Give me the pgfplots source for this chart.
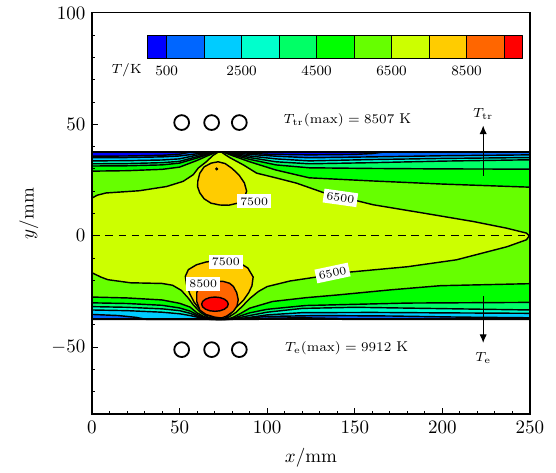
\documentclass[border=0pt]{standalone}
\usepackage{pgfplots}
\pgfplotsset{compat=1.18}
\usetikzlibrary{arrows.meta}
\definecolor{c0}{RGB}{0,0,255}
\definecolor{c1}{RGB}{0,102,255}
\definecolor{c2}{RGB}{0,204,255}
\definecolor{c3}{RGB}{0,255,204}
\definecolor{c4}{RGB}{0,255,102}
\definecolor{c5}{RGB}{0,255,0}
\definecolor{c6}{RGB}{102,255,0}
\definecolor{c7}{RGB}{204,255,0}
\definecolor{c8}{RGB}{255,204,0}
\definecolor{c9}{RGB}{255,102,0}
\definecolor{c10}{RGB}{255,0,0}
\newcommand\fa{\fontsize{7.5}{9}\selectfont}
\newcommand\fb{\fontsize{6}{7}\selectfont}
\begin{document}
\begin{tikzpicture}
\useasboundingbox (0,0) rectangle (292.6pt,248.4pt);
\begin{axis}[
  at={(48.4pt,30.5pt)}, anchor=south west,
  scale only axis, width=230.5pt, height=211.1pt,
  xmin=0, xmax=250, ymin=-80, ymax=100,
  xtick={0,50,...,250}, ytick={-50,0,50,100},
  minor xtick={10,20,...,240}, minor ytick={-80,-70,...,90},
  xtick pos=left, ytick pos=left, tick align=inside,
  major tick length=3pt, minor tick length=1.8pt,
  every tick/.style={black, line width=0.5pt},
  xlabel={$x/\mathrm{mm}$}, ylabel={$y/\mathrm{mm}$},
  xlabel style={yshift=-1pt},
  axis line style={line width=0.6pt},
  clip=false, axis on top,
  contour/.style={draw=black, line width=0.75pt, line join=round, mark=none},
]
% T > 500
\addplot[contour, fill=c0] coordinates {(0,-37.5)(250,-37.5)(250,37.5)(0,37.5)(0,-37.5)};
\addplot[contour, fill=c1] coordinates {
(0,35.7)(20,35.8)(40,36.1)(50,36.6)(56,37.5)(84,37.5)(90,37.0)(100,36.6)(124,36.3)(150,36.5)(160,36.9)(166,37.5)(250,37.5)
(250,-37.5)(143,-37.5)(140,-37.1)(120,-36.8)(100,-37.0)(95,-37.5)(0,-37.5)(0,35.7)};
% T > 1500
\addplot[contour, fill=c2] coordinates {
(0,35.0)(20,35.1)(40,35.4)(50,35.8)(60,36.8)(66,37.3)(69,37.5)(77,37.5)(80,37.3)(90,36.5)(105,35.7)(124,35.0)(160,35.4)(200,35.9)(250,36.3)
(250,-36.8)(210,-36.5)(170,-36.0)(130,-35.8)(100,-36.2)(88,-37.0)(80,-37.5)(31,-37.5)(25,-36.6)(15,-35.8)(0,-35.3)(0,35.0)};
% T > 2500
\addplot[contour, fill=c3] coordinates {
(0,33.6)(20,33.7)(40,34.0)(50,34.5)(60,36.2)(66,37.0)(69.5,37.5)(76.5,37.5)(80,37.0)(90,35.8)(105,34.5)(124,33.6)(160,34.2)(200,34.7)(250,35.1)
(250,-34.8)(200,-34.6)(160,-34.4)(120,-34.5)(100,-35.5)(92,-36.4)(84,-37.2)(78,-37.5)(67,-37.5)(64,-37.2)(60,-36.5)(56,-35.8)(50,-35.0)(40,-34.3)(20,-33.6)(0,-33.3)(0,33.6)};
% T > 3500
\addplot[contour, fill=c4] coordinates {
(0,32.3)(20,32.4)(40,32.8)(50,33.4)(60,35.5)(66,36.7)(70,37.5)(76,37.5)(80,36.7)(90,35.1)(105,33.2)(124,32.3)(160,32.8)(200,33.5)(250,34.1)
(250,-33.3)(200,-32.7)(150,-32.1)(120,-32.6)(100,-34.3)(90,-35.8)(82,-37.1)(77,-37.5)(68,-37.5)(64,-37.0)(60,-36.0)(56,-34.8)(50,-33.6)(40,-32.8)(20,-32.1)(0,-31.8)(0,32.3)};
% T > 4500
\addplot[contour, fill=c5] coordinates {
(0,31.3)(20,31.4)(40,31.8)(50,32.6)(60,34.9)(66,36.4)(70.5,37.5)(75.5,37.5)(80,36.4)(90,34.3)(105,31.8)(124,30.5)(160,30.2)(200,30.0)(250,29.9)
(250,-29.9)(180,-30.2)(122,-31.3)(100,-33.0)(90,-34.6)(85,-35.9)(80,-37.2)(76,-37.5)(71,-37.5)(68,-37.4)(64,-36.7)(60,-35.4)(56,-33.8)(50,-32.4)(40,-31.2)(20,-30.4)(0,-30.1)(0,31.3)};
% T > 5500
\addplot[contour, fill=c6] coordinates {
(0,29.0)(20,29.2)(40,29.8)(50,30.8)(60,33.8)(66,35.9)(71,37.5)(75,37.5)(80,36.0)(90,33.2)(105,29.5)(124,26.0)(160,24.6)(200,23.2)(250,21.8)
(250,-21.5)(199,-22.4)(170,-24.3)(141,-26.5)(122,-27.8)(103,-29.5)(90,-32.5)(84.5,-35.0)(80,-36.8)(76,-37.5)(71,-37.5)(68,-37.2)(64,-36.3)(60,-34.6)(56,-32.0)(50,-30.3)(40,-28.8)(20,-27.9)(0,-27.5)(0,29.0)};
% T > 6500
\addplot[contour, fill=c7] coordinates {
(0,16.9)(3,18.2)(8,19.2)(27,20.2)(42.6,22.1)(52,24.4)(57.8,27.4)(60.7,30.4)(65.4,33.3)(69,36.0)(72,37.5)(74,37.5)(76,36.4)(78.8,35.0)(86.4,31.8)(94,28.1)(105.4,25.9)(116.8,23.6)(132,19.4)(160.6,13.9)(189,10.2)(217.6,6.4)(236.7,3.4)(248,1.2)(249.6,0)
(248,-1.8)(237,-4.9)(208,-10.8)(180,-13.9)(147,-16.3)(130,-18.3)(113,-20.3)(100,-22.8)(95,-25.0)(90,-28.2)(86,-31.5)(82,-34.5)(78,-36.5)(74,-37.5)(71,-37.5)(66,-36.4)(62,-34.4)(58,-31.2)(55,-28.0)(51,-24.5)(46,-22.2)(40,-21.4)(22,-21.1)(9,-19.7)(5,-18.5)(0,-16.6)(0,16.9)};
% T > 7500 (top and bottom)
\addplot[contour, fill=c8] coordinates {
(60.3,22)(60.4,24.5)(61.5,28)(64,30.9)(68,32.6)(72,33.2)(76,32.4)(80,30.2)(84,27.2)(87,23.7)(88.3,20)(86.8,16.8)(83,14.6)(78,13.7)(73,13.8)(68,14.6)(64,16.6)(61.5,19.3)(60.3,22)};
\addplot[only marks, mark=*, mark size=0.6pt, black] coordinates {(71.2,30)};
\addplot[contour, fill=c8] coordinates {
(59.7,-13)(65,-11.8)(71.2,-11.1)(78,-11.3)(84.5,-12.3)(89,-14.5)(92,-18.5)(91.3,-22.5)(89.5,-25.5)(86.4,-29)(82.5,-32)(79,-35)(75.5,-37.3)(70,-36.9)(65.5,-35.5)(61.5,-33.0)(58.3,-29.8)(55.8,-26)(54,-22)(53.3,-18.2)(55,-15.2)(59.7,-13)};
% T > 8500
\addplot[contour, fill=c9] coordinates {
(59.8,-29.5)(59.8,-25.5)(61.5,-22.8)(64.5,-21.2)(69,-20.4)(75,-20.5)(78.5,-21.3)(80.7,-22.7)(82.6,-25.5)(83.5,-28.7)(82.8,-31.5)(80.7,-33.9)(77,-36.0)(74,-36.9)(70,-36.5)(65,-35.3)(61.6,-33.4)(59.8,-29.5)};
% T > 9500
\addplot[contour, fill=c10] coordinates {
(77.8,-30.7)(77.22,-29.47)(75.57,-28.44)(73.11,-27.74)(70.2,-27.5)(67.29,-27.74)(64.83,-28.44)(63.18,-29.47)(62.6,-30.7)(63.18,-31.93)(64.83,-32.96)(67.29,-33.66)(70.2,-33.9)(73.11,-33.66)(75.57,-32.96)(77.22,-31.93)(77.8,-30.7)};
% walls and centre line
\addplot[black, line width=1.2pt, mark=none] coordinates {(0,37.5)(250,37.5)};
\addplot[black, line width=1.2pt, mark=none] coordinates {(0,-37.5)(250,-37.5)};
\addplot[black, line width=0.75pt, mark=none, dash pattern=on 4pt off 3pt] coordinates {(0,0)(248,0)};
% contour labels
\node[fill=white, inner sep=1.6pt, font=\fb] at (axis cs:92.6,15.4) {7500};
\node[fill=white, inner sep=1.6pt, font=\fb, rotate=-8] at (axis cs:141.8,17) {6500};
\node[fill=white, inner sep=1.6pt, font=\fb, rotate=12] at (axis cs:137.3,-16.7) {6500};
\node[fill=white, inner sep=1.6pt, font=\fb] at (axis cs:76.4,-11.7) {7500};
\node[fill=white, inner sep=1.6pt, font=\fb] at (axis cs:63.5,-21.6) {8500};
% electrodes
\addplot[only marks, mark=o, mark size=3.9pt, mark options={line width=0.95pt}, black] coordinates {(51.2,50.8)(68.3,50.8)(84.1,50.8)};
\addplot[only marks, mark=o, mark size=3.9pt, mark options={line width=0.95pt}, black] coordinates {(51.2,-51.1)(68.3,-51.1)(84.1,-51.1)};
\node[font=\fa] at (axis cs:145.8,52) {$T_{\mathrm{tr}}(\max)=8507$ K};
\node[font=\fa] at (axis cs:145.4,-50.4) {$T_{\mathrm{e}}(\max)=9912$ K};
% arrows
\addplot[black, line width=0.55pt, mark=none, -{Latex[length=4.5pt,width=3.8pt]}] coordinates {(223.3,27)(223.3,49.5)};
\addplot[black, line width=0.55pt, mark=none, -{Latex[length=4.5pt,width=3.8pt]}] coordinates {(223.3,-27.2)(223.3,-48.1)};
\node[font=\fa] at (axis cs:223.3,54.5) {$T_{\mathrm{tr}}$};
\node[font=\fa] at (axis cs:223.3,-54.8) {$T_{\mathrm{e}}$};
% colour bar
\addplot[contour, line width=0.45pt, fill=c0] coordinates {(31.6,79.4)(42.6,79.4)(42.6,89.8)(31.6,89.8)(31.6,79.4)};
\addplot[contour, line width=0.45pt, fill=c1] coordinates {(42.6,79.4)(64.0,79.4)(64.0,89.8)(42.6,89.8)(42.6,79.4)};
\addplot[contour, line width=0.45pt, fill=c2] coordinates {(64.0,79.4)(85.4,79.4)(85.4,89.8)(64.0,89.8)(64.0,79.4)};
\addplot[contour, line width=0.45pt, fill=c3] coordinates {(85.4,79.4)(106.9,79.4)(106.9,89.8)(85.4,89.8)(85.4,79.4)};
\addplot[contour, line width=0.45pt, fill=c4] coordinates {(106.9,79.4)(128.2,79.4)(128.2,89.8)(106.9,89.8)(106.9,79.4)};
\addplot[contour, line width=0.45pt, fill=c5] coordinates {(128.2,79.4)(149.7,79.4)(149.7,89.8)(128.2,89.8)(128.2,79.4)};
\addplot[contour, line width=0.45pt, fill=c6] coordinates {(149.7,79.4)(171.0,79.4)(171.0,89.8)(149.7,89.8)(149.7,79.4)};
\addplot[contour, line width=0.45pt, fill=c7] coordinates {(171.0,79.4)(192.5,79.4)(192.5,89.8)(171.0,89.8)(171.0,79.4)};
\addplot[contour, line width=0.45pt, fill=c8] coordinates {(192.5,79.4)(213.8,79.4)(213.8,89.8)(192.5,89.8)(192.5,79.4)};
\addplot[contour, line width=0.45pt, fill=c9] coordinates {(213.8,79.4)(235.3,79.4)(235.3,89.8)(213.8,89.8)(213.8,79.4)};
\addplot[contour, line width=0.45pt, fill=c10] coordinates {(235.3,79.4)(245.8,79.4)(245.8,89.8)(235.3,89.8)(235.3,79.4)};
\node[font=\fa] at (axis cs:19.8,74.1) {$T/\mathrm{K}$};
\node[font=\fa] at (axis cs:42.6,74.1) {500};
\node[font=\fa] at (axis cs:85.4,74.1) {2500};
\node[font=\fa] at (axis cs:128.2,74.1) {4500};
\node[font=\fa] at (axis cs:171.0,74.1) {6500};
\node[font=\fa] at (axis cs:213.8,74.1) {8500};
\end{axis}
\end{tikzpicture}
\end{document}
